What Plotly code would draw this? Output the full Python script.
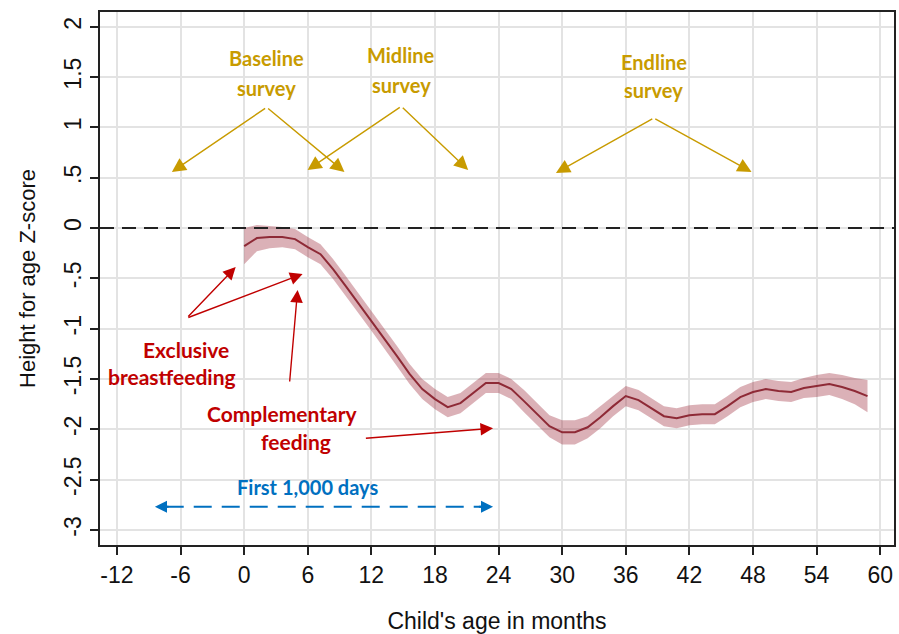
import plotly.graph_objects as go

# Child age (months) and mean height-for-age Z-score with CI half-widths
age_months = [0.0, 1.2, 2.4, 3.6, 4.8, 6.0, 7.2, 8.4, 9.6, 10.8,
              12.0, 13.2, 14.4, 15.6, 16.8, 18.0, 19.2, 20.4, 21.6, 22.8,
              24.0, 25.2, 26.4, 27.6, 28.8, 30.0, 31.2, 32.4, 33.6, 34.8,
              36.0, 37.2, 38.4, 39.6, 40.8, 42.0, 43.2, 44.4, 45.6, 46.8,
              48.0, 49.2, 50.4, 51.6, 52.8, 54.0, 55.2, 56.4, 57.6, 58.8]
haz_mean = [-0.18, -0.10, -0.09, -0.09, -0.11, -0.19, -0.26, -0.41, -0.58, -0.75,
            -0.92, -1.09, -1.27, -1.45, -1.60, -1.70, -1.78, -1.74, -1.64, -1.54,
            -1.54, -1.60, -1.72, -1.85, -1.97, -2.03, -2.03, -1.98, -1.88, -1.77,
            -1.67, -1.71, -1.79, -1.87, -1.89, -1.86, -1.85, -1.85, -1.77, -1.68,
            -1.63, -1.60, -1.62, -1.63, -1.59, -1.57, -1.55, -1.58, -1.62, -1.67]
ci_half = [0.18, 0.13, 0.11, 0.10, 0.10, 0.10, 0.10, 0.10, 0.10, 0.10,
           0.10, 0.10, 0.10, 0.10, 0.10, 0.10, 0.10, 0.10, 0.10, 0.10,
           0.10, 0.10, 0.11, 0.11, 0.11, 0.12, 0.12, 0.11, 0.11, 0.10,
           0.10, 0.10, 0.10, 0.10, 0.10, 0.10, 0.10, 0.10, 0.10, 0.10,
           0.10, 0.10, 0.10, 0.10, 0.10, 0.11, 0.11, 0.12, 0.13, 0.16]

x_ticks = [-12, -6, 0, 6, 12, 18, 24, 30, 36, 42, 48, 54, 60]
x_tick_labels = ["-12", "-6", "0", "6", "12", "18", "24", "30", "36", "42", "48", "54", "60"]
y_ticks = [2, 1.5, 1, 0.5, 0, -0.5, -1, -1.5, -2, -2.5, -3]
y_tick_labels = ["2", "1.5", "1", ".5", "0", "-.5", "-1", "-1.5", "-2", "-2.5", "-3"]

ci_low = [m - h for m, h in zip(haz_mean, ci_half)]
ci_high = [m + h for m, h in zip(haz_mean, ci_half)]

GOLD = "#C89B00"
RED = "#C00000"
BLUE = "#0070C0"
LINE = "#8E2A36"
ANN_FONT = "Lato"
AX_FONT = "Liberation Sans"

fig = go.Figure()
fig.add_trace(go.Scatter(x=age_months + age_months[::-1], y=ci_high + ci_low[::-1],
                         fill="toself", fillcolor="rgba(160,50,65,0.38)",
                         line=dict(width=0), hoverinfo="skip", showlegend=False))
fig.add_trace(go.Scatter(x=age_months, y=haz_mean, mode="lines",
                         line=dict(color=LINE, width=2), showlegend=False))

# zero reference line
fig.add_shape(type="line", xref="paper", x0=0, x1=1, yref="y", y0=0, y1=0,
              line=dict(color="#222222", width=2, dash="14px,8px"))

ann = []
def text(x, y, s, color, size=20):
    ann.append(dict(x=x, y=y, xref="x", yref="y", text="<b>%s</b>" % s, showarrow=False,
                    font=dict(family=ANN_FONT, size=size, color=color)))

def arrow(x0, y0, x1, y1, color, width=1.4, size=1.8):
    ann.append(dict(x=x1, y=y1, ax=x0, ay=y0, xref="x", yref="y", axref="x", ayref="y",
                    text="", showarrow=True, arrowhead=2, arrowsize=size,
                    arrowwidth=width, arrowcolor=color))

# survey annotations
text(2.12, 1.69, "Baseline", GOLD); text(2.12, 1.39, "survey", GOLD)
arrow(2.12, 1.20, -6.82, 0.557, GOLD, size=2.0); arrow(2.12, 1.20, 9.46, 0.557, GOLD, size=2.0)
text(14.82, 1.72, "Midline", GOLD); text(14.82, 1.42, "survey", GOLD)
arrow(14.82, 1.21, 5.98, 0.577, GOLD, size=2.0); arrow(14.82, 1.21, 21.13, 0.577, GOLD, size=2.0)
text(38.64, 1.65, "Endline", GOLD); text(38.64, 1.37, "survey", GOLD)
arrow(38.64, 1.093, 29.41, 0.547, GOLD, size=2.0); arrow(38.64, 1.093, 47.86, 0.557, GOLD, size=2.0)

# feeding annotations
text(-5.5, -1.21, "Exclusive", RED, 21); text(-6.8, -1.48, "breastfeeding", RED, 21)
arrow(-5.41, -0.895, -0.8, -0.388, RED); arrow(-5.41, -0.895, 5.51, -0.457, RED)
text(3.53, -1.84, "Complementary", RED, 21); text(4.9, -2.12, "feeding", RED, 21)
arrow(4.28, -1.54, 5.04, -0.616, RED)
arrow(11.34, -2.09, 23.48, -1.99, RED)

# first 1000 days
text(5.98, -2.57, "First 1,000 days", BLUE, 20)
fig.add_shape(type="line", xref="x", yref="y", x0=-7.4, x1=22.4, y0=-2.77, y1=-2.77,
              line=dict(color=BLUE, width=2.2, dash="18px,10px"))
arrow(-7.0, -2.77, -8.42, -2.77, BLUE, width=2.2, size=1.1)
arrow(22.0, -2.77, 23.48, -2.77, BLUE, width=2.2, size=1.1)

fig.update_layout(
    width=899, height=634, margin=dict(l=100, r=3, t=12, b=89),
    plot_bgcolor="white", paper_bgcolor="white", annotations=ann,
    font=dict(family=AX_FONT, color="#111111"),
)
fig.update_xaxes(range=[-13.6, 61.3], tickvals=x_ticks, ticktext=x_tick_labels,
                 showgrid=True, gridcolor="#E3E3E3",
                 gridwidth=2, zeroline=False, showline=True, linecolor="#222222", linewidth=2,
                 mirror=True, ticks="outside", ticklen=8, tickwidth=2, tickcolor="#222222",
                 tickfont=dict(size=23, family=AX_FONT, color="#111111"),
                 title=dict(text="Child's age in months", standoff=26,
                            font=dict(size=23, family=AX_FONT, color="#111111")))
fig.update_yaxes(range=[-3.15, 2.147], tickvals=y_ticks, ticktext=y_tick_labels, tickangle=-90,
                 showgrid=True, gridcolor="#E3E3E3", gridwidth=2, zeroline=False,
                 showline=True, linecolor="#222222", linewidth=2, mirror=True,
                 ticks="outside", ticklen=8, tickwidth=2, tickcolor="#222222",
                 tickfont=dict(size=23, family=AX_FONT, color="#111111"),
                 title=dict(text="Height for age Z-score", standoff=18,
                            font=dict(size=22, family=AX_FONT, color="#111111")))

fig.write_html("out.html", config={"displayModeBar": False},
               post_script="document.body.style.margin='0px';")
